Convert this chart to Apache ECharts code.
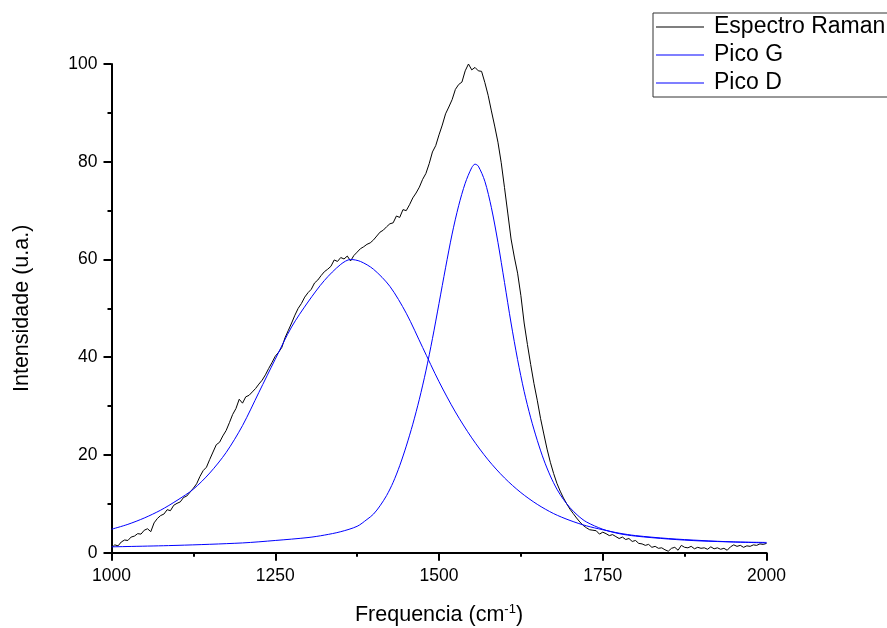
<!DOCTYPE html>
<html>
<head>
<meta charset="utf-8">
<title>Espectro Raman</title>
<script src="https://cdn.jsdelivr.net/npm/echarts@6/dist/echarts.min.js"></script>
<style>
  html, body { margin: 0; padding: 0; background: #fff; }
  #chart { width: 887px; height: 628px; }
</style>
</head>
<body>
<div id="chart"></div>
<script>
// espectro medido: de 1000 a 2000 cm-1, passo de 5
var ramanStart = 1000;
var ramanStep = 5;
var ramanY = [
  1.0, 1.6, 1.4, 2.2, 2.6, 2.5, 3.2, 3.4, 3.9, 3.8,
  4.6, 4.9, 4.3, 6.1, 7.0, 7.6, 7.9, 8.8, 8.6, 9.7,
  10.1, 10.4, 11.3, 11.6, 12.4, 13.2, 14.1, 15.6, 16.8, 17.5,
  19.1, 20.6, 22.1, 22.6, 23.9, 25.0, 26.6, 28.3, 29.5, 31.4,
  30.6, 31.9, 32.2, 32.9, 33.6, 34.5, 35.3, 36.4, 37.7, 38.9,
  40.2, 41.0, 42.0, 44.0, 45.5, 47.0, 48.6, 50.0, 51.0, 52.3,
  53.2, 53.9, 55.2, 55.8, 56.7, 57.5, 58.0, 58.6, 59.9, 59.6,
  60.4, 60.1, 60.7, 59.7, 60.8, 61.5, 62.2, 62.6, 63.1, 63.4,
  64.0, 64.8, 65.6, 66.0, 66.7, 67.3, 67.5, 68.9, 68.6, 70.2,
  70.0, 71.2, 72.6, 73.6, 74.8, 76.4, 77.6, 79.6, 82.0, 83.3,
  85.5, 87.5, 89.8, 91.2, 92.7, 94.8, 95.8, 96.3, 98.6, 100.0,
  98.8, 99.3, 98.6, 98.5, 96.2, 93.6, 90.4, 87.3, 84.0, 79.8,
  74.7, 69.5, 64.2, 60.5, 57.2, 52.6, 47.0, 42.6, 38.5, 34.6,
  31.2, 27.5, 24.3, 21.2, 18.5, 16.2, 14.2, 12.6, 11.2, 10.0,
  8.9, 8.0, 7.1, 6.3, 5.6, 5.1, 4.7, 4.6, 4.5, 3.8,
  4.2, 3.9, 3.5, 3.7, 3.3, 2.9, 3.2, 2.7, 2.9, 2.3,
  2.5, 1.9, 1.8, 1.5, 1.7, 1.1, 1.3, 0.9, 1.0, 0.6,
  0.3, 0.9, 1.1, 0.5, 1.5, 1.1, 1.0, 1.3, 0.8, 1.1,
  0.9, 1.0, 0.7, 1.2, 0.8, 1.0, 0.7, 0.9, 0.5, 1.2,
  1.6, 1.3, 1.5, 1.1, 1.4, 1.3, 1.6, 1.5, 1.8, 1.7,
  1.9
];

// pico G (ajuste)
var picoGX = [1000, 1100, 1200, 1250, 1300, 1325, 1350, 1375, 1390, 1400, 1410, 1420, 1430, 1440, 1450, 1460, 1470, 1480, 1490, 1500, 1510, 1520, 1530, 1540, 1550, 1555, 1560, 1570, 1580, 1590, 1600, 1610, 1620, 1630, 1640, 1650, 1660, 1670, 1680, 1690, 1700, 1712, 1725, 1750, 1775, 1800, 1850, 1900, 1950, 2000];
var picoGY = [1.2, 1.5, 2.0, 2.5, 3.1, 3.6, 4.3, 5.4, 6.8, 7.9, 9.6, 11.7, 14.4, 17.8, 21.8, 26.3, 31.4, 37.2, 43.8, 51.0, 58.3, 65.2, 71.0, 75.6, 78.8, 79.5, 79.1, 76.0, 70.6, 63.5, 55.3, 47.0, 39.5, 33.0, 27.6, 23.0, 19.0, 15.7, 13.0, 10.9, 9.2, 7.6, 6.3, 4.8, 3.9, 3.4, 2.8, 2.4, 2.2, 2.1];

// pico D (ajuste)
var picoDX = [1000, 1025, 1050, 1075, 1100, 1125, 1150, 1175, 1200, 1225, 1250, 1275, 1300, 1325, 1350, 1365, 1380, 1400, 1425, 1450, 1475, 1500, 1525, 1550, 1575, 1600, 1625, 1650, 1675, 1700, 1725, 1750, 1775, 1800, 1850, 1900, 1950, 2000];
var picoDY = [4.8, 5.8, 7.1, 8.7, 10.7, 13.0, 16.3, 20.5, 26.0, 32.8, 39.6, 46.2, 51.3, 55.7, 59.0, 60.0, 59.6, 58.0, 54.5, 49.0, 42.0, 35.0, 28.8, 23.5, 19.0, 15.3, 12.3, 9.9, 8.0, 6.6, 5.5, 4.7, 4.0, 3.5, 2.9, 2.5, 2.2, 2.0];

var xTicks = { min: 1000, max: 2000, interval: 250 };
var yTicks = { min: 0, max: 100, interval: 20 };

function pairs(xs, ys) {
  var out = [];
  for (var i = 0; i < ys.length; i++) out.push([xs[i], ys[i]]);
  return out;
}

var ramanData = [];
for (var i = 0; i < ramanY.length; i++) {
  ramanData.push([ramanStart + i * ramanStep, ramanY[i]]);
}

var font = 'Liberation Sans, Arial, sans-serif';
var myChart = echarts.init(document.getElementById('chart'));

var axisCommon = {
  axisLine: { show: true, lineStyle: { color: '#000', width: 2 } },
  axisTick: { show: true, inside: false, length: 8, lineStyle: { color: '#000', width: 2 } },
  minorTick: { show: true, splitNumber: 2, length: 4, lineStyle: { color: '#000', width: 2 } },
  splitLine: { show: false },
  axisLabel: {
    color: '#000', fontSize: 17.5, fontFamily: font, margin: 14,
    formatter: function (v) { return String(v); }
  }
};

option = {
  backgroundColor: '#fff',
  animation: false,
  grid: { left: 111.5, right: 120.5, top: 64, bottom: 75.3, containLabel: false, outerBoundsMode: 'none' },
  legend: {
    orient: 'vertical',
    left: 653,
    top: 13,
    padding: [0, 60, 0, 3],
    itemGap: 0,
    itemWidth: 48,
    itemHeight: 1,
    icon: 'rect',
    borderColor: '#333',
    borderWidth: 1,
    textStyle: { color: '#000', fontSize: 23, fontFamily: font, lineHeight: 28, padding: [0, 0, 0, 5] },
    data: ['Espectro Raman', 'Pico G', 'Pico D']
  },
  xAxis: Object.assign({}, axisCommon, {
    type: 'value',
    min: xTicks.min,
    max: xTicks.max,
    interval: xTicks.interval,
    name: 'Frequencia (cm{sup|-1})',
    nameLocation: 'middle',
    nameGap: 50,
    nameTextStyle: {
      color: '#000', fontSize: 21.5, fontFamily: font,
      rich: { sup: { fontSize: 13, fontFamily: font, color: '#000', verticalAlign: 'top', padding: [0, 0, 12, 0] } }
    }
  }),
  yAxis: Object.assign({}, axisCommon, {
    type: 'value',
    min: yTicks.min,
    max: yTicks.max,
    interval: yTicks.interval,
    name: 'Intensidade (u.a.)',
    nameLocation: 'middle',
    nameGap: 78,
    nameTextStyle: { color: '#000', fontSize: 21.5, fontFamily: font }
  }),
  series: [
    {
      name: 'Espectro Raman',
      type: 'line',
      data: ramanData,
      symbol: 'none',
      clip: false,
      color: '#000',
      lineStyle: { color: '#000', width: 1 },
      z: 2
    },
    {
      name: 'Pico G',
      type: 'line',
      data: pairs(picoGX, picoGY),
      symbol: 'none',
      smooth: 0.3,
      clip: false,
      color: '#0000ff',
      lineStyle: { color: '#0000ff', width: 1 },
      z: 3
    },
    {
      name: 'Pico D',
      type: 'line',
      data: pairs(picoDX, picoDY),
      symbol: 'none',
      smooth: 0.3,
      clip: false,
      color: '#0000ff',
      lineStyle: { color: '#0000ff', width: 1 },
      z: 3
    }
  ]
};
myChart.setOption(option);
</script>
</body>
</html>
